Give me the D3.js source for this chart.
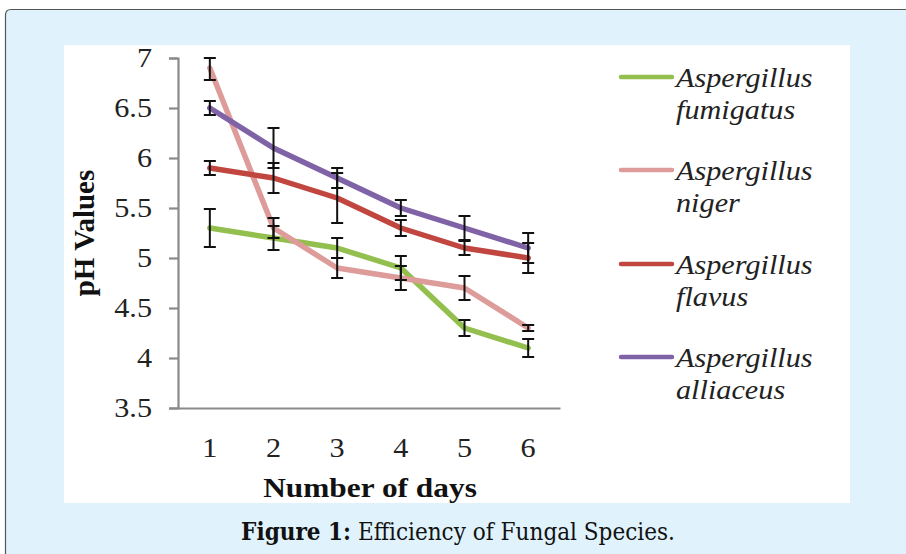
<!DOCTYPE html>
<html>
<head>
<meta charset="utf-8">
<script src="https://cdn.jsdelivr.net/npm/d3@7/dist/d3.min.js"></script>
<style>
  html, body { margin: 0; padding: 0; background: #ffffff; }
  svg { display: block; }
</style>
</head>
<body>
<svg id="chart" width="906" height="554"></svg>
<script>
// ---- data ----
const days = ["1", "2", "3", "4", "5", "6"];
const yTicks = [3.5, 4, 4.5, 5, 5.5, 6, 6.5, 7];
const legendLabels = ["fumigatus", "niger", "flavus", "alliaceus"];
const fumigatus = [5.3, 5.2, 5.1, 4.9, 4.3, 4.1];
const niger     = [6.9, 5.3, 4.9, 4.8, 4.7, 4.3];
const flavus    = [5.9, 5.8, 5.6, 5.3, 5.1, 5.0];
const alliaceus = [6.5, 6.1, 5.8, 5.5, 5.3, 5.1];
const fumigatusErr = [0.19, 0.12, 0.10, 0.12, 0.08, 0.09];
const nigerErr     = [0.12, 0.10, 0.10, 0.12, 0.12, 0.03];
const flavusErr    = [0.07, 0.15, 0.25, 0.08, 0.07, 0.15];
const alliaceusErr = [0.07, 0.20, 0.10, 0.08, 0.12, 0.15];

const series = [
  { name: "fumigatus", values: fumigatus, err: fumigatusErr, color: "#92bf4e" },
  { name: "niger",     values: niger,     err: nigerErr,     color: "#dd9c9a" },
  { name: "flavus",    values: flavus,    err: flavusErr,    color: "#c0463f" },
  { name: "alliaceus", values: alliaceus, err: alliaceusErr, color: "#7f63a6" }
];

const svg = d3.select("#chart");

// outer frame
svg.append("rect").attr("x", 6).attr("y", 10).attr("width", 900).attr("height", 544).attr("fill", "#e0f3fc");
svg.append("path")
  .attr("d", "M5.5,554 L5.5,15 Q5.5,9.5 11,9.5 L906,9.5")
  .attr("fill", "none")
  .attr("stroke", "#555")
  .attr("stroke-width", 1.2);

// white panel
svg.append("rect")
  .attr("x", 64).attr("y", 45).attr("width", 786).attr("height", 458)
  .attr("fill", "#ffffff");

const x = d3.scaleBand().domain(days).range([178, 560]);
const y = d3.scaleLinear().domain([3.5, 7]).range([408, 58]);

const serif = "'Liberation Serif', 'Times New Roman', serif";
const sx = 1.12;

// y axis
const yAxis = d3.axisLeft(y).tickValues(yTicks).tickSize(9).tickPadding(0)
  .tickFormat(d3.format("~g"));
const gy = svg.append("g").attr("transform", "translate(178,0)").call(yAxis);
gy.select(".domain").attr("stroke", "#8a8a8a").attr("stroke-width", 2.2);
gy.selectAll(".tick line").attr("stroke", "#8a8a8a").attr("stroke-width", 2.2);
gy.selectAll(".tick text")
  .attr("x", 0)
  .attr("transform", `translate(-26,0) scale(${sx},1)`)
  .attr("font-family", serif).attr("font-size", 27).attr("fill", "#222");

// x axis
const xAxis = d3.axisBottom(x).tickSize(0).tickPadding(30);
const gx = svg.append("g").attr("transform", "translate(0,408)").call(xAxis);
gx.select(".domain").attr("stroke", "#8a8a8a").attr("stroke-width", 2.2);
gx.selectAll(".tick text")
  .attr("transform", `scale(${sx},1)`)
  .attr("font-family", serif).attr("font-size", 27).attr("fill", "#222");

// axis titles
svg.append("text")
  .attr("transform", "translate(94,233) rotate(-90)")
  .attr("text-anchor", "middle")
  .attr("font-family", serif).attr("font-weight", "bold").attr("font-size", 29)
  .attr("fill", "#111")
  .text("pH Values");
svg.append("text")
  .attr("transform", `translate(370,497) scale(${sx},1)`)
  .attr("text-anchor", "middle")
  .attr("font-family", serif).attr("font-weight", "bold").attr("font-size", 28)
  .attr("fill", "#111")
  .text("Number of days");

// lines
const line = d3.line()
  .x((d, i) => x(days[i]) + x.bandwidth() / 2)
  .y(d => y(d));
series.forEach(s => {
  svg.append("path")
    .datum(s.values)
    .attr("d", line)
    .attr("fill", "none")
    .attr("stroke", s.color)
    .attr("stroke-width", 5.5)
    .attr("stroke-linejoin", "round")
    .attr("stroke-linecap", "round");
});

// error bars
const cap = 6;
series.forEach(s => {
  const g = svg.append("g").attr("stroke", "#111").attr("stroke-width", 2);
  s.values.forEach((v, i) => {
    const cx = x(days[i]) + x.bandwidth() / 2;
    const y1 = y(Math.min(7, v + s.err[i]));
    const y0 = y(v - s.err[i]);
    g.append("line").attr("x1", cx).attr("x2", cx).attr("y1", y1).attr("y2", y0);
    g.append("line").attr("x1", cx - cap).attr("x2", cx + cap).attr("y1", y1).attr("y2", y1);
    g.append("line").attr("x1", cx - cap).attr("x2", cx + cap).attr("y1", y0).attr("y2", y0);
  });
});

// legend
const legendY = [77, 170, 264, 357];
series.forEach((s, i) => {
  const ly = legendY[i];
  svg.append("line")
    .attr("x1", 621).attr("x2", 672).attr("y1", ly).attr("y2", ly)
    .attr("stroke", s.color).attr("stroke-width", 4.5).attr("stroke-linecap", "round");
  const t = svg.append("text")
    .attr("transform", `translate(676,0) scale(${sx},1)`)
    .attr("font-family", serif).attr("font-style", "italic").attr("font-size", 27)
    .attr("fill", "#222");
  t.append("tspan").attr("x", 0).attr("y", ly + 10).text("Aspergillus");
  t.append("tspan").attr("x", 0).attr("y", ly + 42).text(legendLabels[i]);
});

// caption
const cap1 = svg.append("text")
  .attr("x", 458).attr("y", 540)
  .attr("text-anchor", "middle")
  .attr("font-family", "'DejaVu Serif Condensed', 'DejaVu Serif', serif")
  .attr("font-stretch", "condensed")
  .attr("font-size", 24)
  .attr("fill", "#111");
cap1.append("tspan").attr("font-weight", "bold").text("Figure 1:");
cap1.append("tspan").text(" Efficiency of Fungal Species.");
</script>
</body>
</html>
